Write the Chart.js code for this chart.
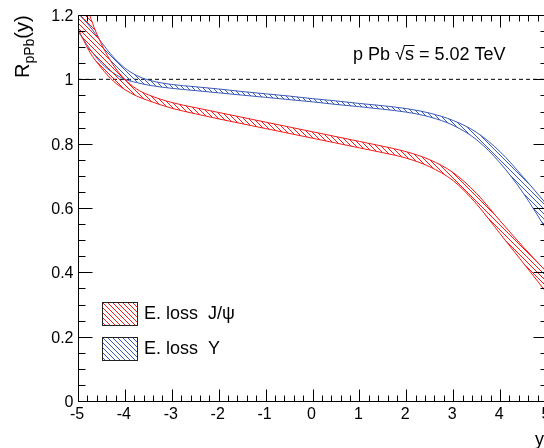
<!DOCTYPE html>
<html>
<head>
<meta charset="utf-8">
<script src="https://cdn.jsdelivr.net/npm/chart.js@4.4.0/dist/chart.umd.min.js"></script>
<style>
  html, body { margin: 0; padding: 0; overflow: hidden; background: #fff; }
  canvas { display: block; }
</style>
</head>
<body>
<canvas id="c" width="548" height="448"></canvas>
<script>
// rapidity grid shared by all band edges
const rapidity = [-5, -4.75, -4.5, -4.25, -4, -3.75, -3.5, -3, -2.5, -2, -1.5, -1, -0.5, 0, 0.5, 1, 1.5, 2, 2.5, 3, 3.5, 4, 4.5, 5];

// J/psi energy-loss band (two edges)
const jpsiUpper = [1.34, 1.2, 1.11, 1.045, 1.0, 0.97, 0.952, 0.928, 0.912, 0.897, 0.882, 0.867, 0.852, 0.837, 0.822, 0.807, 0.792, 0.775, 0.75, 0.71, 0.645, 0.56, 0.478, 0.40];
const jpsiLower = [1.158, 1.085, 1.035, 0.995, 0.968, 0.948, 0.934, 0.91, 0.893, 0.877, 0.862, 0.847, 0.832, 0.817, 0.802, 0.787, 0.772, 0.755, 0.728, 0.685, 0.612, 0.52, 0.428, 0.335];

// Upsilon energy-loss band (two edges)
const upsUpper = [1.205, 1.165, 1.115, 1.07, 1.035, 1.012, 0.998, 0.984, 0.977, 0.97, 0.962, 0.955, 0.948, 0.94, 0.933, 0.925, 0.918, 0.909, 0.895, 0.872, 0.835, 0.775, 0.695, 0.61];
const upsLower = [1.15, 1.095, 1.05, 1.02, 1.0, 0.99, 0.982, 0.972, 0.965, 0.958, 0.951, 0.944, 0.937, 0.93, 0.922, 0.915, 0.907, 0.898, 0.883, 0.857, 0.812, 0.74, 0.645, 0.53];

// R = 1 reference line
const refX = [-5, 5];
const refY = [1, 1];

const xTickLabels = ['-5', '-4', '-3', '-2', '-1', '0', '1', '2', '3', '4', '5'];
const yTickLabels = ['0', '0.2', '0.4', '0.6', '0.8', '1', '1.2'];

const legendLabels = ['E. loss  J/\u03C8', 'E. loss  \u03A5'];

const RED = '#f01c1c';
const BLUE = '#3a5ab8';
const FONT = '"Liberation Sans", Arial, Helvetica, sans-serif';

const canvas = document.getElementById('c');
const ctx = canvas.getContext('2d');

// diagonal "\\\\" hatch like ROOT fill style 3005
function hatch(color) {
  const s = 5;
  const tile = document.createElement('canvas');
  tile.width = s;
  tile.height = s;
  const g = tile.getContext('2d');
  g.strokeStyle = color;
  g.lineWidth = 1;
  g.beginPath();
  for (const k of [-1, 0, 1]) {
    g.moveTo(k * s, 0);
    g.lineTo(k * s + s, s);
  }
  g.stroke();
  return ctx.createPattern(tile, 'repeat');
}

const redHatch = hatch(RED);
const blueHatch = hatch(BLUE);

const pts = (xs, ys) => xs.map((x, i) => ({ x, y: ys[i] }));

const edge = (data, color, fill, bg) => ({
  data: pts(rapidity, data),
  borderColor: color,
  borderWidth: 1,
  backgroundColor: bg || 'transparent',
  fill: fill,
  pointRadius: 0,
  cubicInterpolationMode: 'monotone',
  clip: 0,
});

// frame, ticks, labels, legend drawn with the chart's scales
const rootAxes = {
  id: 'rootAxes',
  afterDraw(chart) {
    const { ctx, chartArea: a, scales: { x, y } } = chart;
    const L = Math.round(a.left) + 0.5;
    const R = Math.round(a.right) + 0.5;
    const T = Math.round(a.top) + 0.5;
    const B = Math.round(a.bottom) + 0.5;
    ctx.save();
    ctx.strokeStyle = '#000';
    ctx.lineWidth = 1;
    ctx.beginPath();
    ctx.rect(L, T, R - L, B - T);

    // x ticks: major at labels, 5 subdivisions
    const xMaj = xTickLabels.map(Number);
    for (let i = 0; i < xMaj.length; i++) {
      for (let k = 0; k < 5; k++) {
        if (i === xMaj.length - 1 && k > 0) break;
        const v = xMaj[i] + k * (xMaj[1] - xMaj[0]) / 5;
        const px = Math.round(x.getPixelForValue(v)) + 0.5;
        const len = k === 0 ? 12 : 6;
        ctx.moveTo(px, B); ctx.lineTo(px, B - len);
        ctx.moveTo(px, T); ctx.lineTo(px, T + len);
      }
    }
    // y ticks: major at labels, 4 subdivisions
    const yMaj = yTickLabels.map(Number);
    for (let i = 0; i < yMaj.length; i++) {
      for (let k = 0; k < 4; k++) {
        if (i === yMaj.length - 1 && k > 0) break;
        const v = yMaj[i] + k * (yMaj[1] - yMaj[0]) / 4;
        const py = Math.round(y.getPixelForValue(v)) + 0.5;
        const len = k === 0 ? 14 : 7;
        ctx.moveTo(L, py); ctx.lineTo(L + len, py);
        ctx.moveTo(R, py); ctx.lineTo(R - len, py);
      }
    }
    ctx.stroke();

    // tick labels
    ctx.fillStyle = '#000';
    ctx.font = '16px ' + FONT;
    ctx.textAlign = 'center';
    ctx.textBaseline = 'alphabetic';
    xTickLabels.forEach(t => {
      ctx.fillText(t, x.getPixelForValue(Number(t)) - 1, 419);
    });
    ctx.textAlign = 'right';
    yTickLabels.forEach(t => {
      ctx.fillText(t, L - 5, y.getPixelForValue(Number(t)) + 6);
    });

    // axis titles
    ctx.font = '18px ' + FONT;
    ctx.textAlign = 'left';
    ctx.fillText('y', 535, 445);

    ctx.save();
    ctx.translate(29, 78);
    ctx.rotate(-Math.PI / 2);
    ctx.font = '20px ' + FONT;
    ctx.fillText('R', 0, 0);
    let w = ctx.measureText('R').width;
    ctx.font = '14px ' + FONT;
    ctx.fillText('pPb', w, 5);
    w += ctx.measureText('pPb').width;
    ctx.font = '20px ' + FONT;
    ctx.fillText('(y)', w, 0);
    ctx.restore();

    // energy label with sqrt(s)
    ctx.font = '18px ' + FONT;
    let tx = 353;
    const ty = 60;
    const pre = 'p Pb \u221A';
    ctx.fillText(pre, tx, ty);
    tx += ctx.measureText(pre).width;
    const sw = ctx.measureText('s').width;
    ctx.fillText('s', tx, ty);
    ctx.beginPath();
    ctx.moveTo(tx - 1, ty - 14.5);
    ctx.lineTo(tx + sw + 0.5, ty - 14.5);
    ctx.stroke();
    tx += sw;
    ctx.fillText(' = 5.02 TeV', tx, ty);

    // legend
    const boxes = [
      { y: 302, pat: redHatch },
      { y: 337, pat: blueHatch },
    ];
    boxes.forEach((b, i) => {
      ctx.fillStyle = '#fff';
      ctx.fillRect(102, b.y, 36, 23);
      ctx.fillStyle = b.pat;
      ctx.fillRect(102, b.y, 36, 23);
      ctx.strokeStyle = '#222';
      ctx.strokeRect(102.5, b.y + 0.5, 35, 23);
      ctx.fillStyle = '#000';
      ctx.font = '18px ' + FONT;
      ctx.fillText(legendLabels[i], 144, b.y + 16.5);
    });
    ctx.restore();
  },
};

new Chart(ctx, {
  type: 'line',
  data: {
    datasets: [
      edge(jpsiUpper, RED, '+1', redHatch),
      edge(jpsiLower, RED, false),
      edge(upsUpper, BLUE, '+1', blueHatch),
      edge(upsLower, BLUE, false),
      {
        data: pts(refX, refY),
        borderColor: '#000',
        borderWidth: 1,
        borderDash: [4, 3],
        pointRadius: 0,
        fill: false,
      },
    ],
  },
  options: {
    responsive: false,
    devicePixelRatio: 1,
    animation: false,
    layout: { padding: { left: 78, top: 15, right: 1, bottom: 47 } },
    scales: {
      x: { type: 'linear', min: -5, max: 5, display: false },
      y: { type: 'linear', min: 0, max: 1.2, display: false },
    },
    plugins: {
      legend: { display: false },
      tooltip: { enabled: false },
    },
  },
  plugins: [rootAxes],
});
</script>
</body>
</html>
